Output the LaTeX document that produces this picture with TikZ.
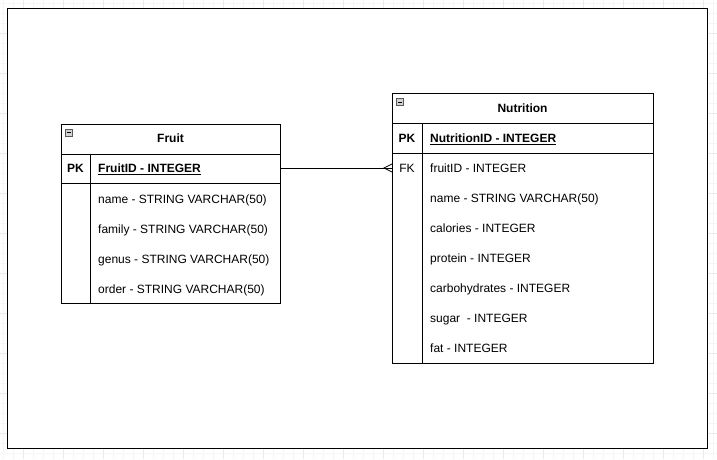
\documentclass[tikz,border=0pt]{standalone}
\usepackage{fontspec}
\setmainfont{Liberation Sans}
\usepackage{tikz}
\usetikzlibrary{positioning}

\tikzset{
  gridminor/.style={gray!7, line width=0.6pt},
  gridmajor/.style={gray!16, line width=0.6pt},
  tablebox/.style={draw=black, line width=1pt, fill=white, inner sep=0pt, anchor=north west},
  celltext/.style={font=\fontsize{12}{14}\selectfont, inner sep=0pt, text height=8.6pt, text depth=0pt},
  titletext/.style={celltext, font=\fontsize{12}{14}\selectfont\bfseries},
  keytext/.style={celltext},
  fieldtext/.style={celltext, anchor=west},
  iconbox/.style={draw=gray!70!black, fill=gray!35, line width=0.6pt, inner sep=0pt, minimum size=7pt}
}

\begin{document}
\begin{tikzpicture}[x=1pt, y=-1pt]
    \useasboundingbox (0,0) rectangle (717,459);
    % grid paper
    \foreach \gx in {3,13,...,713} \draw[gridminor] (\gx,0) -- (\gx,459);
    \foreach \gy in {3,13,...,453} \draw[gridminor] (0,\gy) -- (717,\gy);
    \foreach \gx in {23,63,...,703} \draw[gridmajor] (\gx,0) -- (\gx,459);
    \foreach \gy in {33,73,...,433} \draw[gridmajor] (0,\gy) -- (717,\gy);
    \draw[black, line width=1pt, fill=white] (7.5,8.5) rectangle (707,448);

    % Fruit table
    \node[tablebox, minimum width=219pt, minimum height=29.5pt] (fruithead) at (61,124) {};
    \node[tablebox, minimum width=219pt, minimum height=29.5pt] (fruitpk) at (61,153.5) {};
    \node[tablebox, minimum width=219pt, minimum height=120pt] (fruitbody) at (61,183) {};
    \draw[black, line width=1pt] (90,153.5) -- (90,303);
    \node[iconbox] (fruiticon) at (68.5,132.5) {};
    \draw[black, line width=0.8pt] (66.5,132.5) -- (70.5,132.5);
    \node[titletext] (fruittitle) at (170.5,138.5) {Fruit};
    \node[titletext] (fruitpkkey) at (75.5,168.5) {PK};
    \node[fieldtext, font=\fontsize{12}{14}\selectfont\bfseries] (fruitid) at (98,168.5) {\underline{FruitID - INTEGER}};
    \node[fieldtext] (fruitname) at (98,199) {name - STRING VARCHAR(50)};
    \node[fieldtext] (fruitfamily) at (98,229) {family - STRING VARCHAR(50)};
    \node[fieldtext] (fruitgenus) at (98,259) {genus - STRING VARCHAR(50)};
    \node[fieldtext] (fruitorder) at (98,289) {order - STRING VARCHAR(50)};

    % Nutrition table
    \node[tablebox, minimum width=261pt, minimum height=30pt] (nutrihead) at (392,93) {};
    \node[tablebox, minimum width=261pt, minimum height=30pt] (nutripk) at (392,123) {};
    \node[tablebox, minimum width=261pt, minimum height=210pt] (nutribody) at (392,153) {};
    \draw[black, line width=1pt] (422,123) -- (422,363);
    \node[iconbox] (nutriicon) at (400,102) {};
    \draw[black, line width=0.8pt] (398,102) -- (402,102);
    \node[titletext] (nutrititle) at (522.5,108.5) {Nutrition};
    \node[titletext] (nutripkkey) at (407,138.5) {PK};
    \node[fieldtext, font=\fontsize{12}{14}\selectfont\bfseries] (nutriid) at (430,138.5) {\underline{NutritionID - INTEGER}};
    \coordinate (nutrifk) at (392,168);
    \node[keytext] (nutrifkkey) at (407,168.5) {FK};
    \node[fieldtext] (nutrifruitid) at (430,168.5) {fruitID - INTEGER};
    \node[fieldtext] (nutriname) at (430,198.5) {name - STRING VARCHAR(50)};
    \node[fieldtext] (nutricalories) at (430,228.5) {calories - INTEGER};
    \node[fieldtext] (nutriprotein) at (430,258.5) {protein - INTEGER};
    \node[fieldtext] (nutricarbs) at (430,288.5) {carbohydrates - INTEGER};
    \node[fieldtext] (nutrisugar) at (430,318.5) {sugar\ \ - INTEGER};
    \node[fieldtext] (nutrifat) at (430,348.5) {fat - INTEGER};

    % one fruit to many nutrition rows
    \draw[black, line width=1pt] (fruitpk.east |- nutrifk) -- (nutrifk);
    \draw[black, line width=0.8pt] (nutrifk) ++(0,-4) -- ++(-8,4) -- ++(8,4);
\end{tikzpicture}
\end{document}
